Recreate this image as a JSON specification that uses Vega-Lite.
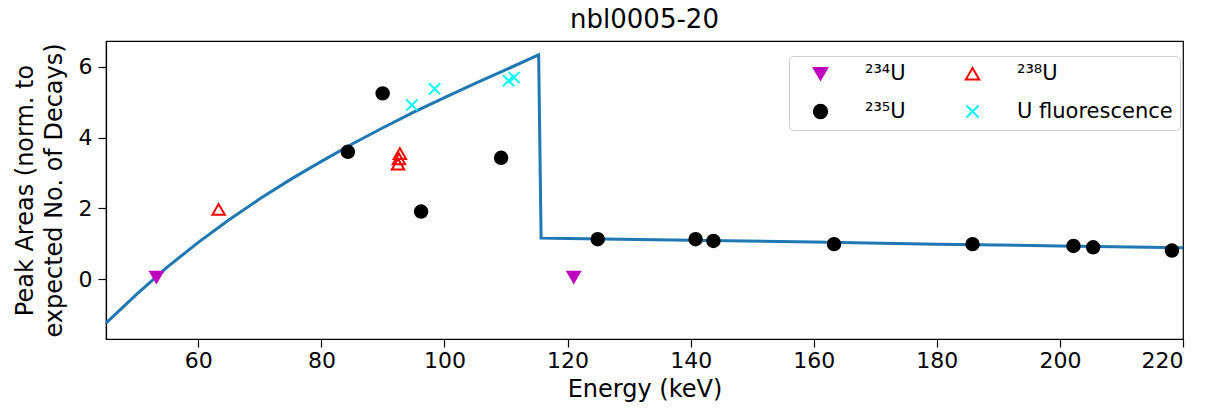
{
  "$schema": "https://vega.github.io/schema/vega-lite/v6.json",
  "width": 1077,
  "height": 298,
  "autosize": {"type": "none"},
  "padding": {"left": 106, "top": 41, "right": 24, "bottom": 70},
  "background": "white",
  "title": {"text": "nbl0005-20", "font": "DejaVu Sans", "fontSize": 26, "fontWeight": "normal", "color": "black", "offset": 8},
  "config": {
    "view": {"stroke": "black", "strokeWidth": 1.2},
    "axis": {"labelFont": "DejaVu Sans", "labelFontSize": 22, "labelColor": "black", "tickColor": "black", "domainColor": "black", "tickSize": 8, "tickWidth": 1.2, "domainWidth": 1.2, "titleFont": "DejaVu Sans", "titleFontSize": 24, "titleFontWeight": "normal", "titleColor": "black", "grid": false},
    "legend": {"labelFont": "DejaVu Sans"}
  },
  "datasets": {
    "curve": [
      {"i": 0, "E": 45, "v": -1.24},
      {"i": 1, "E": 50, "v": -0.42},
      {"i": 2, "E": 55, "v": 0.35},
      {"i": 3, "E": 60, "v": 1.04},
      {"i": 4, "E": 65, "v": 1.68},
      {"i": 5, "E": 70, "v": 2.27},
      {"i": 6, "E": 75, "v": 2.82},
      {"i": 7, "E": 80, "v": 3.33},
      {"i": 8, "E": 85, "v": 3.82},
      {"i": 9, "E": 90, "v": 4.28},
      {"i": 10, "E": 95, "v": 4.72},
      {"i": 11, "E": 100, "v": 5.13},
      {"i": 12, "E": 105, "v": 5.53},
      {"i": 13, "E": 110, "v": 5.92},
      {"i": 14, "E": 115.3, "v": 6.34},
      {"i": 15, "E": 115.7, "v": 1.16},
      {"i": 16, "E": 120, "v": 1.15},
      {"i": 17, "E": 140, "v": 1.10},
      {"i": 18, "E": 160, "v": 1.05},
      {"i": 19, "E": 180, "v": 0.99},
      {"i": 20, "E": 200, "v": 0.94},
      {"i": 21, "E": 220, "v": 0.89}
    ],
    "pts": [
      {"series": "²³⁴U", "E": 53.2, "v": 0.06},
      {"series": "²³⁴U", "E": 121.0, "v": 0.06},
      {"series": "²³⁸U", "E": 63.3, "v": 1.97},
      {"series": "²³⁸U", "E": 92.45, "v": 3.25},
      {"series": "²³⁸U", "E": 92.6, "v": 3.40},
      {"series": "²³⁸U", "E": 92.75, "v": 3.55},
      {"series": "²³⁵U", "E": 84.3, "v": 3.60},
      {"series": "²³⁵U", "E": 89.95, "v": 5.25},
      {"series": "²³⁵U", "E": 96.2, "v": 1.91},
      {"series": "²³⁵U", "E": 109.2, "v": 3.43},
      {"series": "²³⁵U", "E": 124.9, "v": 1.13},
      {"series": "²³⁵U", "E": 140.8, "v": 1.13},
      {"series": "²³⁵U", "E": 143.7, "v": 1.08},
      {"series": "²³⁵U", "E": 163.3, "v": 0.99},
      {"series": "²³⁵U", "E": 185.8, "v": 0.99},
      {"series": "²³⁵U", "E": 202.2, "v": 0.94},
      {"series": "²³⁵U", "E": 205.4, "v": 0.90},
      {"series": "²³⁵U", "E": 218.2, "v": 0.81},
      {"series": "U fluorescence", "E": 94.7, "v": 4.92},
      {"series": "U fluorescence", "E": 98.4, "v": 5.38},
      {"series": "U fluorescence", "E": 110.4, "v": 5.61},
      {"series": "U fluorescence", "E": 111.3, "v": 5.70}
    ]
  },
  "layer": [
    {
      "data": {"name": "curve"},
      "mark": {"type": "line", "color": "#1f77b4", "strokeWidth": 3},
      "encoding": {
        "x": {"field": "E", "type": "quantitative", "scale": {"domain": [45, 220], "nice": false, "zero": false}, "axis": {"title": "Energy (keV)", "values": [60, 80, 100, 120, 140, 160, 180, 200, 220], "labelPadding": 3, "titlePadding": 6}},
        "y": {"field": "v", "type": "quantitative", "scale": {"domain": [-1.69, 6.73], "nice": false, "zero": false}, "axis": {"title": ["Peak Areas (norm. to", "expected No. of Decays)"], "values": [0, 2, 4, 6], "labelPadding": 6, "titlePadding": 12, "titleLineHeight": 29}},
        "order": {"field": "i", "type": "quantitative"}
      }
    },
    {
      "data": {"name": "pts"},
      "mark": {"type": "point", "filled": false, "size": 155, "strokeWidth": 2, "opacity": 1},
      "encoding": {
        "x": {"field": "E", "type": "quantitative"},
        "y": {"field": "v", "type": "quantitative"},
        "fill": {
          "field": "series", "type": "nominal",
          "scale": {"domain": ["²³⁴U", "²³⁵U", "²³⁸U", "U fluorescence"], "range": ["#bf00bf", "#000000", "transparent", "transparent"]},
          "legend": {
            "orient": "none", "legendX": 683, "legendY": 15, "columns": 2, "title": null,
            "symbolSize": 180, "symbolStrokeWidth": 2, "symbolOffset": 14, "labelFontSize": 21, "labelColor": "black", "labelOffset": 34, "columnPadding": 42, "rowPadding": 16, "padding": 7,
            "strokeColor": "#cccccc", "fillColor": "white", "cornerRadius": 4
          }
        },
        "stroke": {
          "field": "series", "type": "nominal",
          "scale": {"domain": ["²³⁴U", "²³⁵U", "²³⁸U", "U fluorescence"], "range": ["#bf00bf", "#000000", "#ff0000", "#00ffff"]}
        },
        "shape": {
          "field": "series", "type": "nominal",
          "scale": {"domain": ["²³⁴U", "²³⁵U", "²³⁸U", "U fluorescence"], "range": ["triangle-down", "circle", "triangle-up", "M-0.9,-0.9L0.9,0.9M-0.9,0.9L0.9,-0.9"]}
        }
      }
    }
  ]
}
